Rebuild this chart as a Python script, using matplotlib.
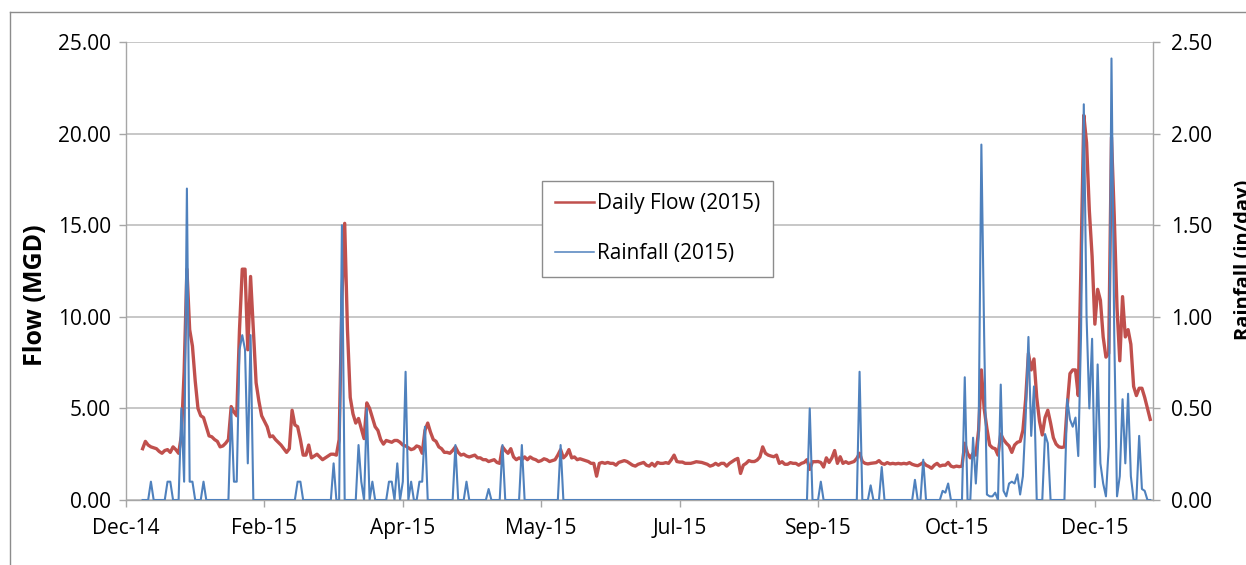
import numpy as np
import matplotlib
matplotlib.use("Agg")
import matplotlib.pyplot as plt
import matplotlib.dates as mdates
from matplotlib.lines import Line2D

plt.rcParams['font.family'] = ['Open Sans', 'DejaVu Sans']

# ---------------- data ----------------
first_day = np.datetime64('2015-01-01')
axis_start = np.datetime64('2014-12-26')
axis_end = np.datetime64('2016-01-01')
tick_step_days = 50

series_labels = ['Daily Flow (2015)', 'Rainfall (2015)']

flow_mgd = [
    2.8, 3.2, 3.0, 2.9, 2.85, 2.8, 2.65, 2.55, 2.7, 2.75,
    2.6, 2.9, 2.75, 2.55, 3.5, 7.0, 12.6, 9.3, 8.4, 6.5,
    5.0, 4.6, 4.5, 4.0, 3.5, 3.45, 3.3, 3.2, 2.9, 2.95,
    3.1, 3.3, 5.1, 4.8, 4.6, 9.3, 12.6, 12.6, 8.2, 12.2,
    9.3, 6.4, 5.4, 4.6, 4.3, 4.0, 3.45, 3.5, 3.3, 3.15,
    3.0, 2.8, 2.6, 2.8, 4.9, 4.1, 4.0, 3.3, 2.45, 2.45,
    3.0, 2.3, 2.4, 2.5, 2.35, 2.2, 2.3, 2.4, 2.5, 2.5,
    2.45, 3.3, 11.0, 15.1, 9.3, 5.6, 4.7, 4.2, 4.45, 3.9,
    3.35, 5.3, 5.0, 4.5, 4.0, 3.8, 3.3, 3.05, 3.25, 3.2,
    3.15, 3.25, 3.25, 3.15, 3.0, 2.95, 2.85, 2.75, 2.8, 2.95,
    2.9, 2.55, 3.8, 4.2, 3.7, 3.3, 3.2, 2.9, 2.8, 2.6,
    2.6, 2.55, 2.7, 2.9, 2.6, 2.45, 2.5, 2.4, 2.35, 2.4,
    2.45, 2.3, 2.3, 2.2, 2.2, 2.1, 2.15, 2.2, 2.05, 2.0,
    2.9, 2.7, 2.55, 2.8, 2.35, 2.2, 2.3, 2.2, 2.35, 2.2,
    2.35, 2.25, 2.2, 2.1, 2.15, 2.25, 2.2, 2.1, 2.15, 2.2,
    2.45, 2.75, 2.3, 2.45, 2.75, 2.3, 2.35, 2.2, 2.25, 2.2,
    2.15, 2.1, 2.0, 2.0, 1.3, 2.0, 2.05, 2.0, 2.05, 2.0,
    2.0, 1.9, 2.05, 2.1, 2.15, 2.1, 2.0, 1.9, 1.85, 1.95,
    2.0, 2.05, 1.9, 1.85, 2.0, 1.85, 2.05, 2.0, 2.0, 2.04,
    2.0, 2.2, 2.45, 2.1, 2.07, 2.07, 2.0, 2.0, 2.0, 2.04,
    2.09, 2.07, 2.05, 2.0, 1.95, 1.85, 1.9, 2.0, 1.9, 2.0,
    2.0, 1.85, 2.0, 2.1, 2.2, 2.27, 1.45, 1.9, 2.0, 2.15,
    2.1, 2.1, 2.18, 2.35, 2.9, 2.55, 2.45, 2.4, 2.36, 2.45,
    2.0, 2.09, 1.95, 1.95, 2.04, 2.0, 2.0, 1.9, 2.0, 2.05,
    2.2, 1.67, 2.09, 2.09, 2.1, 2.05, 1.8, 2.3, 2.05, 2.3,
    2.7, 2.0, 2.36, 2.0, 2.09, 2.0, 2.05, 2.1, 2.27, 2.55,
    2.1, 2.0, 1.97, 2.0, 2.02, 2.04, 2.15, 2.0, 1.95, 2.04,
    1.97, 2.0, 1.97, 2.0, 1.97, 2.0, 1.97, 2.04, 1.95, 1.9,
    1.87, 1.95, 2.05, 1.9, 1.83, 1.73, 1.9, 2.0, 1.85, 1.9,
    1.9, 2.05, 1.85, 1.8, 1.85, 1.82, 1.85, 3.1, 2.55, 2.3,
    2.55, 2.45, 3.8, 7.1, 5.0, 3.9, 3.0, 2.85, 2.8, 2.45,
    3.6, 3.3, 3.1, 2.95, 2.6, 3.0, 3.15, 3.2, 3.8, 5.5,
    8.0, 7.1, 7.7, 5.6, 4.3, 3.55, 4.5, 4.9, 4.2, 3.4,
    3.05, 2.9, 2.87, 2.9, 5.1, 6.9, 7.1, 7.1, 5.7, 13.0,
    21.0, 19.5, 15.8, 13.3, 9.6, 11.5, 10.9, 8.9, 7.8, 8.0,
    19.8, 15.5, 10.5, 7.6, 11.1, 8.9, 9.3, 8.5, 6.2, 5.7,
    6.1, 6.1, 5.6, 5.0, 4.4,
]

rain_in = [
    0, 0, 0, 0.1, 0, 0, 0, 0, 0, 0.1,
    0.1, 0, 0, 0, 0.5, 0.1, 1.7, 0.1, 0.1, 0,
    0, 0, 0.1, 0, 0, 0, 0, 0, 0, 0,
    0, 0, 0.5, 0.1, 0.1, 0.82, 0.9, 0.82, 0.2, 0.9,
    0, 0, 0, 0, 0, 0, 0, 0, 0, 0,
    0, 0, 0, 0, 0, 0, 0.1, 0.1, 0, 0,
    0, 0, 0, 0, 0, 0, 0, 0, 0, 0.2,
    0, 0, 1.5, 0, 0, 0, 0, 0, 0.3, 0.1,
    0, 0.5, 0, 0.1, 0, 0, 0, 0, 0, 0.1,
    0.1, 0, 0.2, 0, 0.1, 0.7, 0, 0.1, 0, 0,
    0.1, 0.1, 0.4, 0, 0, 0, 0, 0, 0, 0,
    0, 0, 0, 0.3, 0, 0, 0, 0.1, 0, 0,
    0, 0, 0, 0, 0, 0.06, 0, 0, 0, 0,
    0.3, 0, 0, 0, 0, 0, 0, 0.3, 0, 0,
    0, 0, 0, 0, 0, 0, 0, 0, 0, 0,
    0, 0.3, 0, 0, 0, 0, 0, 0, 0, 0,
    0, 0, 0, 0, 0, 0, 0, 0, 0, 0,
    0, 0, 0, 0, 0, 0, 0, 0, 0, 0,
    0, 0, 0, 0, 0, 0, 0, 0, 0, 0,
    0, 0, 0, 0, 0, 0, 0, 0, 0, 0,
    0, 0, 0, 0, 0, 0, 0, 0, 0, 0,
    0, 0, 0, 0, 0, 0, 0, 0, 0, 0,
    0, 0, 0, 0, 0, 0, 0, 0, 0, 0,
    0, 0, 0, 0, 0, 0, 0, 0, 0, 0,
    0, 0.5, 0, 0, 0, 0.1, 0, 0, 0, 0,
    0, 0, 0, 0, 0, 0, 0, 0, 0, 0.7,
    0, 0, 0, 0.08, 0, 0, 0, 0.18, 0, 0,
    0, 0, 0, 0, 0, 0, 0, 0, 0, 0.11,
    0, 0, 0.22, 0, 0, 0, 0, 0, 0, 0.05,
    0.04, 0.09, 0, 0, 0, 0, 0, 0.67, 0, 0,
    0.34, 0.09, 0.35, 1.94, 0.9, 0.03, 0.02, 0.02, 0.04, 0,
    0.63, 0.05, 0.02, 0.09, 0.1, 0.09, 0.14, 0.03, 0.13, 0.45,
    0.89, 0.35, 0.62, 0, 0, 0, 0.36, 0.31, 0, 0,
    0, 0, 0, 0, 0.55, 0.44, 0.4, 0.45, 0.24, 0.9,
    2.16, 1.0, 0.5, 0.88, 0.07, 0.74, 0.2, 0.09, 0.02, 0.29,
    2.41, 0.9, 0.02, 0.13, 0.55, 0.2, 0.58, 0.13, 0, 0,
    0.35, 0.06, 0.05, 0, 0,
]

flow_ticks = [0, 5, 10, 15, 20, 25]
rain_ticks = [0.0, 0.5, 1.0, 1.5, 2.0, 2.5]

# ---------------- styling ----------------
RED = '#C0504D'
BLUE = '#4F81BD'
GRID = '#BDBDBD'
AXC = '#A6A6A6'

W, H = 1246, 565
fig = plt.figure(figsize=(W / 100, H / 100), dpi=100)
L, R, T, B = 126, 1153, 42, 500
ax = fig.add_axes([L / W, 1 - B / H, (R - L) / W, (B - T) / H])
ax2 = ax.twinx()

flow_dates = first_day + np.arange(len(flow_mgd)).astype('timedelta64[D]')
rain_dates = first_day + np.arange(len(rain_in)).astype('timedelta64[D]')

ax.plot(flow_dates, flow_mgd, color=RED, lw=2.4, solid_joinstyle='round', zorder=3)
ax2.plot(rain_dates, rain_in, color=BLUE, lw=1.5, solid_joinstyle='round', zorder=3)

ax.set_xlim(axis_start, axis_end)
ticks = axis_start + (np.arange(8) * tick_step_days).astype('timedelta64[D]')
ax.set_xticks(ticks)
ax.xaxis.set_major_formatter(mdates.DateFormatter('%b-%y'))

ax.set_ylim(0, 25)
ax.set_yticks(flow_ticks)
ax.set_yticklabels([f'{v:.2f}' for v in flow_ticks])
ax2.set_ylim(0, 2.5)
ax2.set_yticks(rain_ticks)
ax2.set_yticklabels([f'{v:.2f}' for v in rain_ticks])

ax.grid(axis='y', color=GRID, lw=1.2)
ax.set_axisbelow(True)

for a in (ax, ax2):
    a.spines['top'].set_visible(False)
    for s in ('left', 'right', 'bottom'):
        a.spines[s].set_color(AXC)
        a.spines[s].set_linewidth(1.0)
    a.tick_params(axis='both', colors=AXC, labelcolor='black', labelsize=15,
                  length=5, width=1.0, direction='out')
ax.spines['right'].set_visible(False)
ax2.spines['left'].set_visible(False)
ax2.spines['bottom'].set_visible(False)
ax.tick_params(axis='x', pad=8)
ax.tick_params(axis='y', pad=6)
ax2.tick_params(axis='y', pad=8)

fig.text(36 / W, 1 - 295 / H, 'Flow (MGD)', rotation=90, ha='center', va='center',
         fontsize=18, fontweight='bold')
# right axis title: partly outside the frame, as in the source picture
fig.text(1234 / W, 1 - 260 / H, 'Rainfall (in/day)', rotation=90, ha='left', va='center',
         fontsize=14.5, fontweight='bold')

# figure border (partially visible)
fig.add_artist(Line2D([10 / W, 10 / W], [0, 1 - 12 / H], transform=fig.transFigure,
                      color='#8C8C8C', lw=1.0))
fig.add_artist(Line2D([10 / W, 1], [1 - 12 / H, 1 - 12 / H], transform=fig.transFigure,
                      color='#8C8C8C', lw=1.0))

handles = [Line2D([], [], color=RED, lw=1.8), Line2D([], [], color=BLUE, lw=1.1)]
fig.legend(handles, series_labels, loc='upper left',
           bbox_to_anchor=(542 / W, 1 - 181 / H), bbox_transform=fig.transFigure,
           frameon=True, fancybox=False, edgecolor='#8C8C8C', framealpha=1,
           fontsize=15, handlelength=1.9, handletextpad=0.15, labelspacing=1.38,
           borderpad=0.6, borderaxespad=0)
fig.legends[0].get_frame().set_linewidth(1.0)

fig.savefig('out.png', dpi=100)
